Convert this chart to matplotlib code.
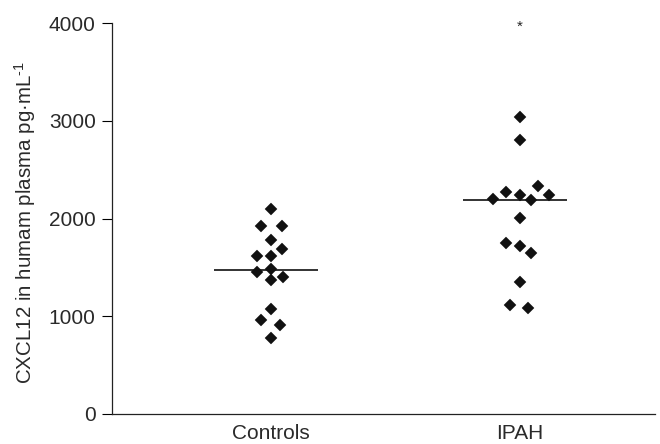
import matplotlib
matplotlib.use("Agg")
import matplotlib.pyplot as plt

plt.rcParams['font.family'] = ['Liberation Sans', 'DejaVu Sans']
plt.rcParams['mathtext.fontset'] = 'custom'
plt.rcParams['mathtext.rm'] = 'Liberation Sans'
plt.rcParams['mathtext.it'] = 'Liberation Sans'

categories = ["Controls", "IPAH"]
controls_values = [2095, 1921, 1921, 1778, 1692, 1613, 1613, 1452, 1487, 1401, 1367, 1077, 957, 913, 775]
controls_jitter = [0, -10, 11, 0, 11, -14, 0, -14, 0, 12, 0, 0, -10, 9, 0]
ipah_values = [3042, 2803, 2331, 2273, 2246, 2246, 2205, 2188, 2006, 1754, 1719, 1651, 1350, 1111, 1087]
ipah_jitter = [0, 0, 18, -14, 0, 29, -27, 11, 0, -14, 0, 11, 0, -10, 8]
center_lines = [1470, 2195]
yticks = [0, 1000, 2000, 3000, 4000]

fig = plt.figure(figsize=(6.6, 4.44), dpi=100)
ax = fig.add_axes([112/660, 1 - 413.8/444, (655-112)/660, (413.8-23.3)/444])

groups = [(controls_values, controls_jitter), (ipah_values, ipah_jitter)]
for i, (vals, jit) in enumerate(groups):
    xs = [i + j/249 for j in jit]
    ax.plot(xs, vals, linestyle='none', marker='D', ms=6.2, color='#111111', mew=0.3)
    ax.hlines(center_lines[i], i - 0.23, i + 0.19, color='#111111', lw=1.2)

ax.text(1, 3960, "*", ha='center', va='center', fontsize=11, color='#222222')

tc = '#2a2a2a'
ax.set_xlim(-(271-112)/249, 1 + (655-520)/249)
ax.set_ylim(0, 4000)
ax.set_xticks([0, 1])
ax.set_xticklabels(categories, fontsize=15, color=tc)
ax.set_yticks(yticks)
ax.set_yticklabels([str(t) for t in yticks], fontsize=15, color=tc)
ax.tick_params(axis='x', length=0, pad=7.3)
ax.tick_params(axis='y', length=7.2, width=0.8, direction='out', pad=4.5)
fig.text(25/660, 1 - 222/444, "CXCL12 in humam plasma pg·mL$^{\\mathregular{\u2010}1}$",
         rotation=90, ha='center', va='center', fontsize=14.8, color=tc)
for s in ['top', 'right']:
    ax.spines[s].set_visible(False)
for s in ['left', 'bottom']:
    ax.spines[s].set_linewidth(0.9)
    ax.spines[s].set_color('#222222')

fig.savefig("out.png", dpi=100)
